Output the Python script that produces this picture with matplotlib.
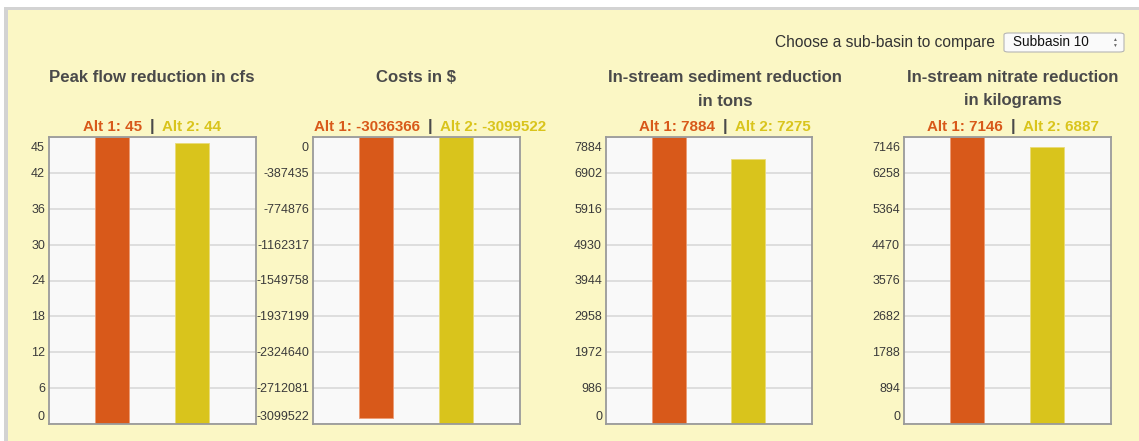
import matplotlib
matplotlib.use('Agg')
import matplotlib.pyplot as plt
import matplotlib.transforms as mtransforms
from matplotlib.patches import Rectangle, FancyBboxPatch
import numpy as np

# chart data
titles = ['Peak flow reduction in cfs',
          'Costs in $',
          'In-stream sediment reduction\nin tons',
          'In-stream nitrate reduction\nin kilograms']
alt1 = [45, -3036366, 7884, 7146]
alt2 = [44, -3099522, 7275, 6887]
tick_labels = [
    ['45', '42', '36', '30', '24', '18', '12', '6', '0'],
    ['0', '-387435', '-774876', '-1162317', '-1549758', '-1937199', '-2324640', '-2712081', '-3099522'],
    ['7884', '6902', '5916', '4930', '3944', '2958', '1972', '986', '0'],
    ['7146', '6258', '5364', '4470', '3576', '2682', '1788', '894', '0'],
]
selected = 'Subbasin 10'

ORANGE = '#D8591A'
YELLOW = '#D9C41C'
GRAY = '#4A4A4A'
BG = '#FBF7C5'

W, H = 1139, 441
plt.rcParams['font.family'] = ['Liberation Sans', 'DejaVu Sans']

fig = plt.figure(figsize=(W / 100, H / 100), dpi=100)
fig.patch.set_facecolor('white')

def fx(px):
    return px / W

def fy(py):
    return 1 - py / H

# page panel with grey border (behind the axes)
fig.patches.append(Rectangle((fx(4), 0), 1, fy(7), transform=fig.transFigure,
                             facecolor='#D3D3D3', edgecolor='none', zorder=-2))
fig.patches.append(Rectangle((fx(8), 0), 1, fy(10), transform=fig.transFigure,
                             facecolor=BG, edgecolor='none', zorder=-1))

# selector
fig.text(fx(995), fy(42), 'Choose a sub-basin to compare', ha='right', va='center',
         fontsize=11.2, color='#333333')
fig.patches.append(FancyBboxPatch((fx(1004), fy(52)), fx(120), 19 / H,
                                  boxstyle='round,pad=0,rounding_size=0.004',
                                  transform=fig.transFigure, facecolor='#FAFAFA',
                                  edgecolor='#B5B5B5', linewidth=0.8, zorder=1))
fig.text(fx(1013), fy(42.5), selected, ha='left', va='center', fontsize=9.8, color='#111111')
fig.text(fx(1114), fy(39.5), '\u25b2', ha='center', va='center', fontsize=3.5, color='#666666')
fig.text(fx(1114), fy(45.5), '\u25bc', ha='center', va='center', fontsize=3.5, color='#666666')

axes_lr = [(49, 256), (313, 520), (606, 812), (904, 1111)]
label_cx = [152, 430, 725, 1013]
title_cx = [152, 416, 725, 1013]
top, bottom = 137, 424

for i in range(4):
    l, r = axes_lr[i]
    ax = fig.add_axes([fx(l), fy(bottom), (r - l) / W, (bottom - top) / H])
    ax.set_facecolor('#F9F9F9')

    hi = float(tick_labels[i][0])
    lo = float(tick_labels[i][-1])
    ax.set_ylim(lo, hi)
    ax.set_xlim(-0.79, 1.80)

    # bars grow from zero
    ax.bar([0, 1], [alt1[i], alt2[i]], width=0.425, color=[ORANGE, YELLOW],
           edgecolor=['#EC9C74', '#EADB78'], linewidth=0.6, zorder=3)

    ticks = np.linspace(hi, lo, 9)
    ax.set_yticks(ticks)
    ax.set_yticklabels([])
    ax.set_xticks([])
    ax.tick_params(axis='y', length=0)
    ax.grid(axis='y', color='#D6D6D6', linewidth=1.1, zorder=1)
    for s in ax.spines.values():
        s.set_color('#9A9A9A')
        s.set_linewidth(1.3)
        s.set_zorder(4)

    trans = mtransforms.blended_transform_factory(ax.transAxes, ax.transData)
    for k, (t, lab) in enumerate(zip(ticks, tick_labels[i])):
        dy = -1
        if k == 0:
            dy = -11
        elif k == len(ticks) - 1:
            dy = 7
        ax.annotate(lab, xy=(0, t), xycoords=trans, xytext=(-4, dy),
                    textcoords='offset pixels', ha='right', va='center',
                    fontsize=9, color='#3A3A3A', annotation_clip=False)

    # title and alt values
    lines = titles[i].split('\n')
    for j, line in enumerate(lines):
        fig.text(fx(title_cx[i]), fy(78 + 23 * j), line, ha='center', va='center',
                 fontsize=12.1, fontweight='bold', color=GRAY)
    cx = label_cx[i]
    fig.text(fx(cx - 10), fy(127), 'Alt 1: %d' % alt1[i], ha='right', va='center',
             fontsize=10.9, fontweight='bold', color=ORANGE)
    fig.text(fx(cx), fy(127), '|', ha='center', va='center',
             fontsize=12, fontweight='bold', color=GRAY)
    fig.text(fx(cx + 10), fy(127), 'Alt 2: %d' % alt2[i], ha='left', va='center',
             fontsize=10.9, fontweight='bold', color=YELLOW)

fig.savefig('out.png', dpi=100, facecolor=fig.get_facecolor())
